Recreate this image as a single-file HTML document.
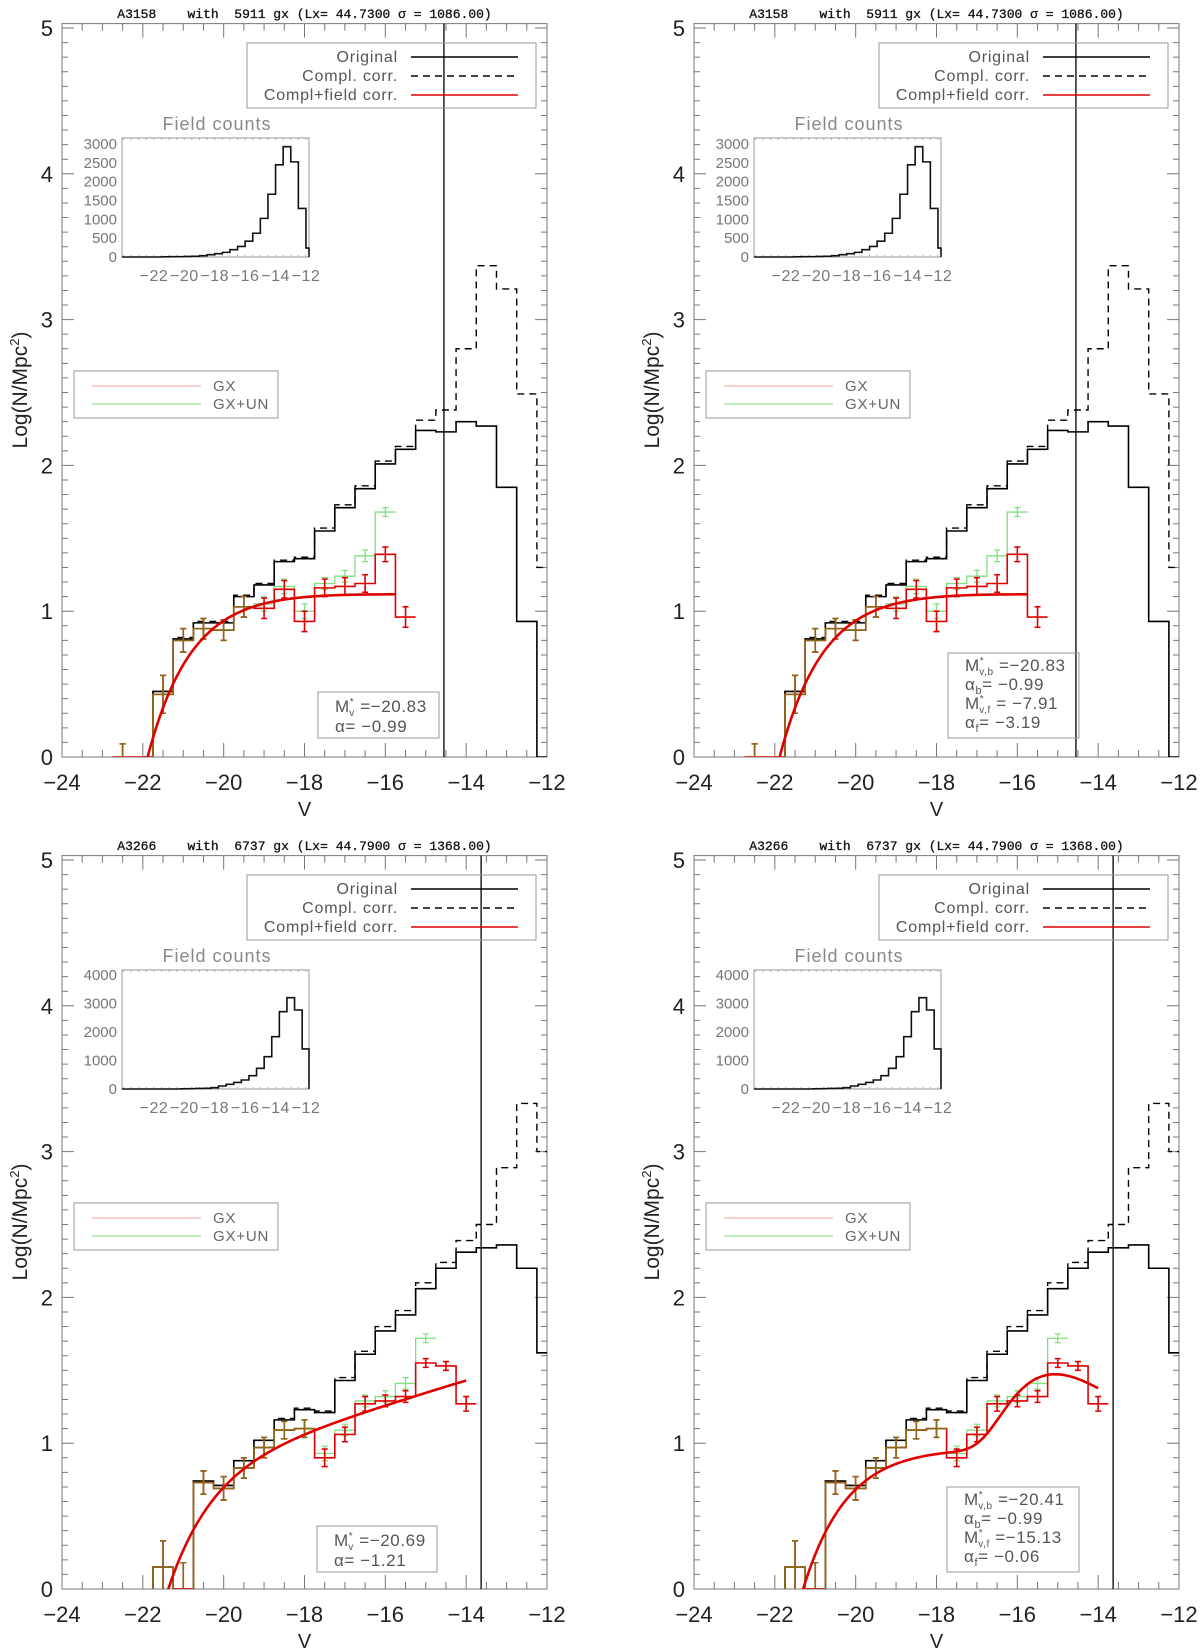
<!DOCTYPE html>
<html><head><meta charset="utf-8"><title>Luminosity functions</title>
<style>
html,body{margin:0;padding:0;background:#fff;}
svg{display:block;font-family:"Liberation Sans",sans-serif;}
.ttl{white-space:pre;}
</style></head>
<body>
<svg id="fig" width="1200" height="1652" viewBox="0 0 1200 1652" xmlns="http://www.w3.org/2000/svg"></svg>
<script>
// ---------- data (A3158) ----------
const binStart = -21.75;
const binWidth = 0.5;
const a_black  = [0.45,0.81,0.92,0.92,1.10,1.18,1.34,1.36,1.55,1.71,1.84,2.01,2.11,2.24,2.23,2.30,2.27,1.85,0.93,0];
const a_dashed = [0.45,0.82,0.93,0.93,1.11,1.19,1.35,1.37,1.57,1.73,1.86,2.03,2.13,2.31,2.38,2.80,3.37,3.21,2.49,1.30];
const a_redStart = -22.75;
const a_red    = [0,0,0.43,0.80,0.88,0.87,1.03,1.02,1.15,0.93,1.16,1.17,1.19,1.39,0.96];
const a_redErr = [0.09,0,0.13,0.08,0.07,0.07,0.07,0.07,0.06,0.07,0.06,0.06,0.06,0.05,0.07];
const a_green    = [0,0,0.43,0.80,0.88,0.87,1.03,1.05,1.17,1.00,1.19,1.24,1.38,1.68];
const a_greenErr = [0.09,0,0.13,0.08,0.07,0.07,0.07,0.05,0.05,0.05,0.04,0.04,0.04,0.03];
const a_vline = -14.55;
const a_field = [5,8,10,14,20,35,61,88,123,193,281,421,631,1026,1666,2447,2929,2526,1289,237,0];
const a_fieldStart = -21.5;
const a_fieldTicks = [0,500,1000,1500,2000,2500,3000];
const a_fitL = [-20.83,-0.99,13.8];
const a_fitR = [-20.83,-0.99,13.8,-7.91,-3.19,0];
// ---------- data (A3266) ----------
const b_black  = [0.15,0,0.74,0.71,0.88,1.02,1.16,1.23,1.21,1.43,1.61,1.77,1.88,2.06,2.20,2.31,2.34,2.36,2.20,1.62];
const b_dashed = [0.15,0,0.74,0.71,0.88,1.02,1.17,1.24,1.22,1.45,1.63,1.80,1.91,2.10,2.24,2.39,2.50,2.89,3.33,3.00];
const b_redStart = -21.75;
const b_red    = [0.15,0,0.73,0.69,0.83,0.97,1.09,1.10,0.90,1.06,1.27,1.29,1.32,1.55,1.53,1.27];
const b_redErr = [0.18,0.18,0.08,0.08,0.07,0.07,0.06,0.06,0.06,0.05,0.05,0.04,0.04,0.03,0.03,0.05];
const b_green    = [0.15,0,0.73,0.69,0.83,0.97,1.09,1.10,0.93,1.09,1.29,1.32,1.41,1.72];
const b_greenErr = [0.18,0.18,0.08,0.08,0.07,0.07,0.06,0.06,0.05,0.04,0.04,0.04,0.04,0.03];
const b_vline = -13.63;
const b_field = [8,12,18,25,47,105,164,230,316,468,725,1134,1836,2713,3205,2772,1404];
const b_fieldStart = -20.25;
const b_fieldTicks = [0,1000,2000,3000,4000];
const b_fitL = [-20.69,-1.21,7.4];
const b_fitR = [-20.41,-0.99,9.6,-15.13,-0.06,56];
// ---------- axis labels ----------
const xTicks = [-24,-22,-20,-18,-16,-14,-12];
const yTicks = [0,1,2,3,4,5];
const insetXTicks = [-22,-20,-18,-16,-14,-12];

const NS = "http://www.w3.org/2000/svg";
const fig = document.getElementById('fig');
function el(tag, attrs, parent){
  const e = document.createElementNS(NS, tag);
  for (const k in attrs) e.setAttribute(k, attrs[k]);
  (parent||fig).appendChild(e);
  return e;
}
const RED="#e00000", GREEN="#80e080", OLIVE="#8a6a1a";

function schechter(M, Ms, a, A){
  const x = Math.pow(10, 0.4*(Ms - M));
  return A*Math.pow(x, a+1)*Math.exp(-x);
}

function panel(o){
  const dx=o.dx, dy=o.dy;
  const X = v => dx + 62 + (v+24)*485/12;
  const Y = v => dy + 757 - v*145.8;
  const g = el('g', {});
  
  
  const cid = 'clip'+o.name;
  const cp = el('clipPath', {id:cid}, g);
  el('rect', {x:X(-24), y:Y(5.03), width:X(-12)-X(-24), height:Y(0)-Y(5.03)}, cp);

  const t = el('text', {x:(X(-24)+X(-12))/2, y:dy+18, 'text-anchor':'middle','font-size':13,'font-family':'"Liberation Mono",monospace',fill:'#111','class':'ttl','stroke':'#111','stroke-width':0.3}, g);
  
  
  t.textContent = o.title;

  const fr = el('rect', {x:X(-24), y:Y(5.03), width:X(-12)-X(-24), height:Y(0)-Y(5.03), fill:'none', stroke:'#777','stroke-width':1}, g);
  
  
  let tp='';
  for (let v=-24; v<=-12.001+0.5; v+=0.5){
    const major = Math.abs(v/2 - Math.round(v/2))<1e-6;
    const L = major?14:7, x=X(v);
    tp += `M${x},${Y(0)}v${-L}M${x},${Y(5.03)}v${L}`;
  }
  for (let k=0; k<=50; k++){
    const v=k/10, major=(k%10===0), L=major?12:6, y=Y(v);
    tp += `M${X(-24)},${y}h${L}M${X(-12)},${y}h${-L}`;
  }
  el('path',{d:tp,stroke:'#777','stroke-width':1,fill:'none'},g);
  xTicks.forEach(v=>{
    const tx = el('text',{x:X(v), y:dy+790,'text-anchor':'middle','font-size':22,fill:'#222'},g);
    
    
    tx.textContent = String(v).replace('-','\u2212');
  });
  yTicks.forEach(v=>{
    const ty = el('text',{x:X(-24)-9, y:Y(v)+8,'text-anchor':'end','font-size':22,fill:'#222'},g);
    
    
    ty.textContent = String(v);
  });
  const xl = el('text',{x:(X(-24)+X(-12))/2, y:dy+816,'text-anchor':'middle','font-size':20,fill:'#222'},g);
  
  
  xl.textContent='V';
  const yl = el('text',{x:dx+27, y:dy+390,'text-anchor':'middle','font-size':21,fill:'#222',transform:`rotate(-90 ${dx+27} ${dy+390})`},g);
  
  
  yl.innerHTML = 'Log(N/Mpc<tspan dy="-8" font-size="13">2</tspan><tspan dy="8">)</tspan>';

  const pg = el('g',{'clip-path':`url(#${cid})`},g);
  function stepPath(vals, start){
    let d = `M${X(start)},${Y(0)}`;
    vals.forEach((v,i)=>{ d += `V${Y(v)}H${X(start+(i+1)*binWidth)}`; });
    return d;
  }
  const bl = el('path',{d:stepPath(o.black,binStart),fill:'none',stroke:'#000','stroke-width':1.6},pg);
  
  
  const ds = el('path',{d:stepPath(o.dashed,binStart),fill:'none',stroke:'#000','stroke-width':1.4,'stroke-dasharray':'7,5'},pg);
  
  

  function errBars(vals, errs, start, color, w){
    let d='';
    vals.forEach((v,i)=>{
      const e=errs[i]; if(!e) return;
      const xc=X(start+(i+0.5)*binWidth);
      d+=`M${xc},${Y(v-e)}V${Y(v+e)}M${xc-3},${Y(v-e)}h6M${xc-3},${Y(v+e)}h6`;
    });
    return el('path',{d:d,stroke:color,'stroke-width':w,fill:'none'},pg);
  }
  const gh = el('path',{d:stepPath(o.green,o.redStart),fill:'none',stroke:GREEN,'stroke-width':1.3},pg);
  
  
  const ge = errBars(o.green,o.greenErr,o.redStart,GREEN,1.3);
  
  
  const rh = el('path',{d:stepPath(o.red,o.redStart),fill:'none',stroke:RED,'stroke-width':1.6},pg);
  
  
  const re = errBars(o.red,o.redErr,o.redStart,RED,1.6);
  
  
  let od='';
  const same = i => i>=0 && i<o.green.length && i<o.red.length && Math.abs(o.red[i]-o.green[i])<0.015;
  o.red.forEach((v,i)=>{
    if(!same(i)) return;
    const x0=X(o.redStart+i*binWidth), x1=X(o.redStart+(i+1)*binWidth);
    const pv = i===0?0:o.red[i-1];
    if(v>0) od+=`M${x0},${Y(v)}H${x1}`;
    if((i===0||same(i-1)) && v!==pv) od+=`M${x0},${Y(pv)}V${Y(v)}`;
  });
  const ol = el('path',{d:od||'M0,0',stroke:OLIVE,'stroke-width':1.7,fill:'none'},pg);
  
  
  const oe = errBars(o.red, o.redErr.map((e,i)=>same(i)?e:0), o.redStart, OLIVE, 1.6);
  
  

  const f=o.fit; let fd='';
  for (let M=o.fitFrom; M<=o.fitTo+1e-9; M+=0.05){
    let phi = schechter(M,f[0],f[1],f[2]);
    if (f.length>3 && f[5]>0) phi += schechter(M,f[3],f[4],f[5]);
    const lv = Math.max(Math.log10(phi), -0.5);
    fd += (fd?'L':'M')+X(M).toFixed(2)+','+Y(lv).toFixed(2);
  }
  const fc = el('path',{d:fd,stroke:RED,'stroke-width':2.6,fill:'none'},pg);
  
  

  const vl = el('line',{x1:X(o.vline),x2:X(o.vline),y1:Y(5.03),y2:Y(0),stroke:'#000','stroke-width':1.3},g);
  
  

  const lg = el('g',{},g);
  
  
  el('rect',{x:dx+247,y:dy+43,width:289,height:65,fill:'none',stroke:'#999','stroke-width':1},lg);
  const lab=['Original','Compl. corr.','Compl+field corr.'];
  const sty=[{stroke:'#000'},{stroke:'#000','stroke-dasharray':'7,5'},{stroke:RED}];
  lab.forEach((s,i)=>{
    const yy=dy+57+i*19;
    const tt=el('text',{x:dx+398,y:yy+5,'text-anchor':'end','font-size':16,fill:'#555','letter-spacing':'0.8'},lg);
    
    
    tt.textContent=s;
    el('line',Object.assign({x1:dx+411,x2:dx+518,y1:yy,y2:yy,'stroke-width':1.4},sty[i]),lg);
  });
  const lg2 = el('g',{},g);
  
  
  el('rect',{x:dx+74,y:dy+371,width:204,height:47,fill:'none',stroke:'#999','stroke-width':1},lg2);
  [['GX','#f0a0a0'],['GX+UN',GREEN]].forEach((p,i)=>{
    const yy=dy+386+i*18;
    el('line',{x1:dx+92,x2:dx+201,y1:yy,y2:yy,stroke:p[1],'stroke-width':1},lg2);
    const tt=el('text',{x:dx+213,y:yy+5,'font-size':15,fill:'#666','letter-spacing':'0.8'},lg2);
    
    
    tt.textContent=p[0];
  });

  const ig = el('g',{},g);
  
  
  const ix0=dx+122, ix1=dx+309, iy0=dy+257, iy1=dy+138;
  const IX = v => ix0 + (v+24.1)*(ix1-ix0)/12.3;
  const IY = c => iy0 - c*(iy0-iy1)/o.fieldMax;
  el('rect',{x:ix0,y:iy1,width:ix1-ix0,height:iy0-iy1,fill:'none',stroke:'#999','stroke-width':1},ig);
  const it = el('text',{x:dx+217,y:dy+130,'text-anchor':'middle','font-size':18,fill:'#888','letter-spacing':'1'},ig);
  
  
  it.textContent='Field counts';
  let itp='';
  for(let v=-24;v<=-12;v+=0.5){ itp+=`M${IX(v)},${iy0}v-2M${IX(v)},${iy1}v2`; }
  el('path',{d:itp,stroke:'#aaa','stroke-width':1},ig);
  o.fieldTicks.forEach(c=>{
    const tt=el('text',{x:dx+117,y:IY(c)+5,'text-anchor':'end','font-size':15,fill:'#777'},ig);
    
    
    tt.textContent=String(c);
  });
  insetXTicks.forEach(v=>{
    const tt=el('text',{x:IX(v),y:dy+281,'text-anchor':'middle','font-size':16,fill:'#777','letter-spacing':'0.5'},ig);
    
    
    tt.textContent=String(v).replace('-','\u2212');
  });
  let fdp=`M${ix0},${iy0}H${IX(o.fieldStart)}`;
  o.field.forEach((c,i)=>{ fdp+=`V${IY(c)}H${Math.min(IX(o.fieldStart+(i+1)*0.5),ix1)}`; });
  fdp+=`V${iy0}`;
  const fh=el('path',{d:fdp,fill:'none',stroke:'#111','stroke-width':1.6},ig);
  
  

  const pb = el('g',{},g);
  
  
  el('rect',{x:dx+o.pbox[0],y:dy+o.pbox[1],width:o.pbox[2],height:o.pbox[3],fill:'none',stroke:'#999','stroke-width':1},pb);
  o.plines.forEach((h,i)=>{
    const tt=el('text',{x:dx+o.pbox[0]+17,y:dy+o.pbox[1]+o.pfirst+i*o.pstep,'font-size':17,fill:'#555','letter-spacing':'0.6'},pb);
    
    
    tt.innerHTML=h;
  });
}

const Ms = b => `M<tspan dy="-7" font-size="10">*</tspan><tspan dy="11" dx="-5" font-size="10">${b}</tspan><tspan dy="-4">`;
const Al = b => `α<tspan dy="4" font-size="11">${b}</tspan><tspan dy="-4">`;

panel({name:'panel-a3158-single',dx:0,dy:0,title:'A3158    with  5911 gx (Lx= 44.7300 σ = 1086.00)',
  black:a_black,dashed:a_dashed,red:a_red,redErr:a_redErr,green:a_green,greenErr:a_greenErr,redStart:a_redStart,
  vline:a_vline,fit:a_fitL,fitFrom:-22.0,fitTo:-15.75,field:a_field,fieldStart:a_fieldStart,fieldMax:3160,fieldTicks:a_fieldTicks,
  pbox:[318,692,121,46],pfirst:20,pstep:20,plines:[Ms('v')+' =−20.83</tspan>','α=  −0.99']});
panel({name:'panel-a3158-double',dx:632,dy:0,title:'A3158    with  5911 gx (Lx= 44.7300 σ = 1086.00)',
  black:a_black,dashed:a_dashed,red:a_red,redErr:a_redErr,green:a_green,greenErr:a_greenErr,redStart:a_redStart,
  vline:a_vline,fit:a_fitR,fitFrom:-22.0,fitTo:-15.75,field:a_field,fieldStart:a_fieldStart,fieldMax:3160,fieldTicks:a_fieldTicks,
  pbox:[316,653,131,85],pfirst:18,pstep:19,plines:[Ms('v,b')+' =−20.83</tspan>',Al('b')+'=  −0.99</tspan>',Ms('v,f')+'  =  −7.91</tspan>',Al('f')+'=  −3.19</tspan>']});
panel({name:'panel-a3266-single',dx:0,dy:832,title:'A3266    with  6737 gx (Lx= 44.7900 σ = 1368.00)',
  black:b_black,dashed:b_dashed,red:b_red,redErr:b_redErr,green:b_green,greenErr:b_greenErr,redStart:b_redStart,
  vline:b_vline,fit:b_fitL,fitFrom:-21.6,fitTo:-14.0,field:b_field,fieldStart:b_fieldStart,fieldMax:4175,fieldTicks:b_fieldTicks,
  pbox:[317,694,120,46],pfirst:20,pstep:20,plines:[Ms('v')+' =−20.69</tspan>','α=  −1.21']});
panel({name:'panel-a3266-double',dx:632,dy:832,title:'A3266    with  6737 gx (Lx= 44.7900 σ = 1368.00)',
  black:b_black,dashed:b_dashed,red:b_red,redErr:b_redErr,green:b_green,greenErr:b_greenErr,redStart:b_redStart,
  vline:b_vline,fit:b_fitR,fitFrom:-21.6,fitTo:-14.0,field:b_field,fieldStart:b_fieldStart,fieldMax:4175,fieldTicks:b_fieldTicks,
  pbox:[315,655,132,85],pfirst:18,pstep:19,plines:[Ms('v,b')+' =−20.41</tspan>',Al('b')+'=  −0.99</tspan>',Ms('v,f')+' =−15.13</tspan>',Al('f')+'=  −0.06</tspan>']});
</script>
</body></html>
